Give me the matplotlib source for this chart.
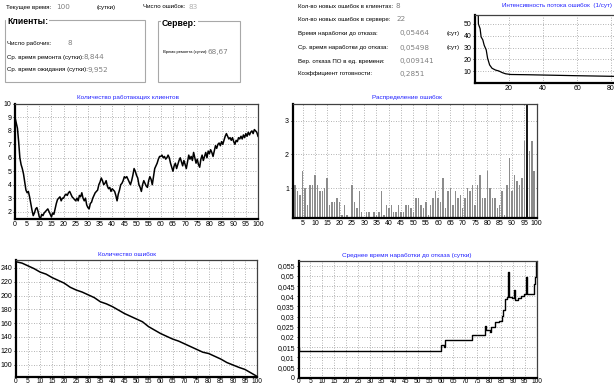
import numpy as np
import matplotlib
matplotlib.use('Agg')
import matplotlib.pyplot as plt
from matplotlib.patches import Rectangle

plt.rcParams['font.family'] = ['Liberation Sans', 'DejaVu Sans']

# --- данные ---
# количество работающих клиентов (шаг 0.5 суток)
t_clients = np.arange(0, 100.5, 0.5)
clients = [9.0, 8.6, 8.2, 7.2, 6.0, 5.5, 5.2, 4.8, 4.2, 3.6, 3.4, 3.5, 3.1, 2.6, 2.1, 1.7,
           1.9, 2.2, 2.3, 2.0, 1.6, 1.5, 1.8, 1.7, 1.9, 2.0, 2.1, 2.2, 2.0, 1.8, 1.6, 1.9,
           1.8, 2.2, 2.6, 2.9, 3.0, 3.1, 2.8, 3.0, 3.0, 3.2, 3.3, 3.2, 3.4, 3.5, 3.3, 3.1,
           3.0, 2.9, 2.8, 3.0, 2.8, 3.2, 3.1, 3.4, 3.0, 2.8, 3.0, 2.5, 2.3, 2.2, 2.6, 2.7,
           3.0, 3.2, 3.4, 3.5, 3.6, 4.0, 4.2, 4.5, 4.3, 4.0, 4.1, 4.3, 3.9, 3.7, 3.8, 3.5,
           3.7, 3.6, 3.5, 3.2, 2.8, 3.3, 3.6, 4.0, 4.1, 4.3, 4.6, 4.5, 4.6, 4.4, 4.2, 4.0,
           4.3, 4.7, 5.2, 5.0, 4.7, 4.5, 4.0, 3.8, 3.5, 4.0, 4.3, 4.1, 3.9, 3.8, 4.3, 4.6,
           4.4, 4.0, 4.6, 5.2, 5.4, 5.6, 5.9, 6.1, 6.1, 6.2, 6.0, 6.1, 5.9, 6.0, 6.2, 6.0,
           5.6, 5.3, 5.0, 5.4, 5.6, 5.2, 5.5, 5.8, 6.0, 5.7, 5.4, 5.8, 5.5, 5.2, 5.7, 6.2,
           5.9, 6.1, 5.8, 6.4, 6.0, 5.6, 5.9, 5.5, 5.3, 5.9, 6.2, 5.8, 6.1, 6.4, 6.0, 6.5,
           6.3, 6.6, 6.4, 6.1, 6.5, 6.9, 6.7, 7.0, 7.1, 6.9, 7.2, 7.0, 7.3, 7.6, 7.8, 7.6,
           7.4, 7.5, 7.3, 7.5, 7.2, 7.0, 7.3, 7.2, 7.5, 7.4, 7.6, 7.4, 7.7, 7.5, 7.8, 7.6,
           7.9, 7.7, 7.9, 8.0, 7.8, 8.1, 8.0, 7.9, 7.6]

# распределение ошибок по суткам 1..100
days = np.arange(1, 101)
err_dist = [0, 1.1, 0.9, 0.8, 1.5, 1.0, 0.5, 1.1, 1.1, 1.4,
            1.1, 0.9, 0.9, 1.0, 1.3, 0.5, 0.6, 0.6, 0.7, 0.6,
            0.2, 0.5, 0.2, 0, 1.1, 0.6, 0.4, 0.9, 0.3, 0,
            0.3, 0.3, 0, 0.3, 0.2, 0.3, 0.9, 0.2, 0.5, 0.4,
            0.5, 0.3, 0.3, 0.5, 0.3, 0.3, 0.5, 0.5, 0.4, 0.3,
            0.7, 0.7, 0.5, 0.4, 0.6, 0.2, 0.5, 0.7, 0.9, 0.7,
            0.6, 1.3, 0.4, 0.9, 1.0, 0.5, 0.9, 0.7, 0.8, 0.4,
            0.7, 1.0, 0.9, 1.1, 0.5, 1.1, 1.4, 0.7, 0.7, 1.5,
            1.0, 0.7, 0.7, 0.4, 0.5, 0.9, 0.2, 1.1, 1.9, 0.9,
            1.4, 1.2, 1.1, 1.3, 2.4, 3.6, 2.1, 2.4, 1.5, 0]

# количество ошибок (шаг 2.5 суток)
t_errors = np.arange(0, 100.1, 2.5)
errors = [249, 247, 243, 239, 234, 231, 226, 222, 218, 212, 208, 205, 201, 197,
          191, 188, 184, 179, 174, 170, 166, 162, 155, 150, 145, 141, 137, 134,
          130, 126, 122, 118, 116, 112, 108, 103, 99.5, 96, 93, 88, 83]

# среднее время наработки до отказа (ступеньки)
t_mtbf = [0, 0.3, 60, 61, 61.3, 73, 78.5, 78.8, 79.5, 80.3, 81, 82.5, 84, 85.3, 86,
          86.5, 87.6, 88, 88.3, 89.5, 90.5, 90.8, 92, 93.5, 94.5, 95.5, 95.8, 98.7,
          99.3, 99.8, 100]
mtbf = [0.0145, 0.013, 0.0162, 0.015, 0.0183, 0.021, 0.0253, 0.0235, 0.0232, 0.0222,
        0.0248, 0.0272, 0.028, 0.0305, 0.033, 0.0388, 0.0395, 0.052, 0.0397, 0.0392,
        0.043, 0.038, 0.039, 0.040, 0.041, 0.0495, 0.041, 0.046, 0.0495, 0.057, 0.057]

# интенсивность потока ошибок
t_rate = [1.8, 2, 3, 3.6, 4.6, 5.4, 6.6, 7.4, 8.6, 10, 12, 14, 16, 18, 21, 31, 45, 59, 83, 100]
rate = [70, 50, 46, 39, 36.5, 32, 28, 21, 15.3, 12.5, 11, 10.2, 8.8, 7.8, 7.2, 7.0, 6.6, 6.2, 5.6, 5.5]

W, H = 614, 387
fig = plt.figure(figsize=(W / 100, H / 100), dpi=100)
fig.patch.set_facecolor('white')


def box(l, t, r, b):
    return [l / W, 1 - b / H, (r - l) / W, (b - t) / H]


def tx(x, y, s, **kw):
    kw.setdefault('va', 'center')
    kw.setdefault('fontsize', 4.4)
    fig.text(x / W, 1 - y / H, s, **kw)


def frame(l, t, r, b):
    fig.add_artist(Rectangle((l / W, 1 - b / H), (r - l) / W, (b - t) / H, fill=False,
                             ec='#a8a8a8', lw=0.8, transform=fig.transFigure))


VAL = dict(color='#808080', fontsize=5.2, family='DejaVu Sans')
TITLE = dict(color='#2323ff', fontsize=4.6, ha='center')

# --- текстовая часть ---
tx(6, 7, 'Текущее время:')
tx(56, 7, '100', **VAL)
tx(97, 7, '(сутки)')
tx(143, 7, 'Число ошибок:')
tx(188, 7, '83', color='#b0b0b0', fontsize=5.2, family='DejaVu Sans')

frame(5, 20, 145, 82)
tx(7, 21, 'Клиенты:', fontsize=6.2, fontweight='bold',
   bbox=dict(fc='white', ec='none', pad=0.5))
tx(7, 43, 'Число рабочих:')
tx(68, 43, '8', **VAL)
tx(7, 57, 'Ср. время ремонта (сутки):')
tx(84, 57, '8,844', **VAL)
tx(7, 70, 'Ср. время ожидания (сутки):')
tx(88, 70, '9,952', **VAL)

frame(158, 21, 240, 82)
tx(162, 24, 'Сервер:', fontsize=6.2, fontweight='bold',
   bbox=dict(fc='white', ec='none', pad=0.5))
tx(163, 52, 'Время ремонта (сутки):', fontsize=3.0)
tx(208, 52, '68,67', **VAL)

tx(298, 6, 'Кол-во новых ошибок в клиентах:')
tx(396, 6, '8', **VAL)
tx(298, 19, 'Кол-во новых ошибок в сервере:')
tx(396, 19, '22', **VAL)
tx(298, 33, 'Время наработки до отказа:')
tx(400, 33, '0,05464', **VAL)
tx(447, 33, '(сут)')
tx(298, 48, 'Ср. время наработки до отказа:')
tx(400, 48, '0,05498', **VAL)
tx(447, 48, '(сут)')
tx(298, 61, 'Вер. отказа ПО в ед. времени:')
tx(400, 61, '0,009141', **VAL)
tx(298, 74, 'Коэффициент готовности:')
tx(400, 74, '0,2851', **VAL)


def style(ax):
    ax.set_facecolor('white')
    for s in ('left', 'bottom'):
        ax.spines[s].set_linewidth(1.6)
        ax.spines[s].set_color('black')
    for s in ('top', 'right'):
        ax.spines[s].set_linewidth(0.9)
        ax.spines[s].set_color('#404040')
    ax.grid(True, color='#9a9a9a', linestyle=(0, (1, 2)), linewidth=0.6)
    ax.set_axisbelow(True)
    ax.tick_params(labelsize=5, length=1.5, width=0.6, pad=1.2, direction='out')
    ax.tick_params(axis='x', length=0, pad=1.5)


# --- интенсивность потока ошибок ---
ax0 = fig.add_axes(box(475, 15, 645, 83))
ax0.plot(t_rate, rate, color='black', lw=0.9)
ax0.set_xlim(0, 100)
ax0.set_ylim(0, 57.6)
ax0.set_xticks([20, 40, 60, 80, 100])
ax0.set_yticks([10, 20, 30, 40, 50])
style(ax0)
tx(612, 6, 'Интенсивность потока ошибок  (1/сут)', color='#2323ff', fontsize=4.5, ha='right')

# --- количество работающих клиентов ---
ax1 = fig.add_axes(box(15, 104, 258, 219))
ax1.plot(t_clients, clients, color='black', lw=1.1)
ax1.set_xlim(0, 100)
ax1.set_ylim(1.45, 10)
ax1.set_xticks(np.arange(0, 101, 5))
ax1.set_yticks(np.arange(2, 11, 1))
style(ax1)
tx(128, 97, 'Количество работающих клиентов', **TITLE)

# --- распределение ошибок ---
ax2 = fig.add_axes(box(292.7, 104, 536.7, 217.7))
cols = ['#1a1a1a' if v > 3.5 else '#8c8c8c' for v in err_dist]
ax2.bar(days, err_dist, width=0.6, color=cols)
ax2.set_xlim(1, 100)
ax2.set_ylim(0.12, 3.5)
ax2.set_xticks(np.arange(5, 101, 5))
ax2.set_yticks([1, 2, 3])
style(ax2)
tx(407, 97, 'Распределение ошибок', **TITLE)

# --- количество ошибок ---
ax3 = fig.add_axes(box(16, 260, 257, 376.7))
ax3.plot(t_errors, errors, color='black', lw=1.1)
ax3.set_xlim(0, 100)
ax3.set_ylim(82.5, 251.5)
ax3.set_xticks(np.arange(0, 101, 5))
ax3.set_yticks(np.arange(100, 241, 20))
style(ax3)
ax3.tick_params(axis='x', pad=0.6, labelsize=4.8)
tx(127, 254, 'Количество ошибок', **TITLE)

# --- среднее время наработки до отказа ---
ax4 = fig.add_axes(box(298.5, 261, 536.7, 377.7))
ax4.plot(t_mtbf, mtbf, color='black', lw=1.0, drawstyle='steps-post')
ax4.set_xlim(0, 100)
ax4.set_ylim(0, 0.0573)
ax4.set_xticks(np.arange(0, 101, 5))
yt = np.round(np.arange(0, 0.0551, 0.005), 3)
ax4.set_yticks(yt)
ax4.set_yticklabels([f'{v:g}'.replace('.', ',') for v in yt])
style(ax4)
ax4.tick_params(axis='x', pad=0.3, labelsize=4.8)
tx(407, 255, 'Среднее время наработки до отказа (сутки)', **TITLE)

fig.savefig('out.png', dpi=100)
